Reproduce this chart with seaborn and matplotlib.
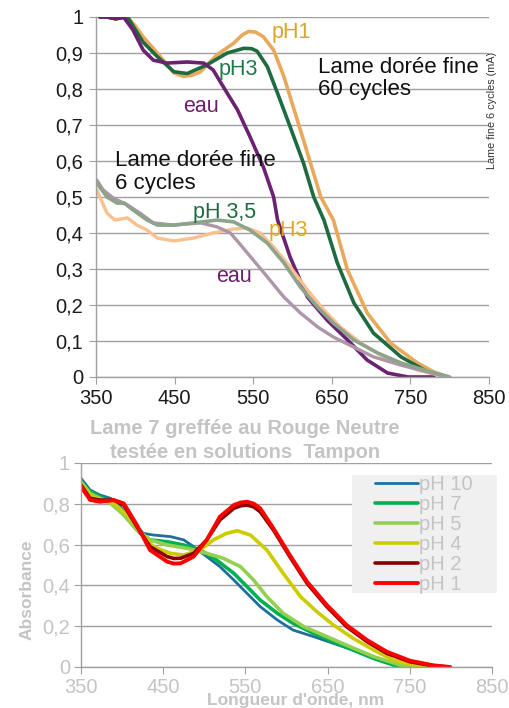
import numpy as np
import pandas as pd
import matplotlib
matplotlib.use("Agg")
import matplotlib.pyplot as plt
from matplotlib.patches import Rectangle
import seaborn as sns

sns.set_style("white")
plt.rcParams['font.family'] = ['Liberation Sans', 'DejaVu Sans']

# ---------------- Top chart data (gold film) ----------------
x60_ph1 = [355, 364, 375, 390, 400, 410, 428, 449, 461, 472, 483, 504, 525, 536, 544, 553, 563, 576, 589, 601, 614, 636, 652, 670, 695, 725, 759, 780, 798]
y60_ph1 = [1.0, 1.0, 0.995, 1.0, 0.975, 0.945, 0.90, 0.845, 0.835, 0.838, 0.848, 0.895, 0.927, 0.95, 0.96, 0.958, 0.945, 0.908, 0.835, 0.75, 0.658, 0.5, 0.436, 0.297, 0.178, 0.094, 0.039, 0.014, 0.0]
x60_ph3 = [355, 364, 375, 390, 400, 410, 428, 449, 466, 491, 517, 538, 548, 555, 568, 581, 597, 614, 627, 640, 657, 678, 703, 738, 772, 798]
y60_ph3 = [1.0, 1.0, 0.995, 1.0, 0.965, 0.93, 0.89, 0.848, 0.843, 0.867, 0.90, 0.913, 0.912, 0.905, 0.862, 0.788, 0.695, 0.594, 0.5, 0.436, 0.317, 0.206, 0.122, 0.056, 0.014, 0.0]
x60_eau = [355, 364, 375, 385, 397, 410, 423, 440, 466, 487, 499, 512, 530, 546, 563, 576, 581, 597, 619, 644, 670, 695, 721, 747, 780]
y60_eau = [1.0, 1.0, 0.995, 1.0, 0.964, 0.908, 0.88, 0.872, 0.875, 0.872, 0.853, 0.806, 0.742, 0.667, 0.583, 0.5, 0.436, 0.333, 0.222, 0.158, 0.103, 0.047, 0.011, 0.0, 0.0]

x6_ph35 = [351, 364, 377, 386, 397, 415, 428, 449, 474, 504, 525, 546, 568, 589, 610, 632, 652, 678, 708, 738, 776, 800]
y6_ph35 = [0.539, 0.5, 0.483, 0.483, 0.464, 0.436, 0.422, 0.422, 0.428, 0.436, 0.431, 0.408, 0.372, 0.317, 0.25, 0.194, 0.15, 0.103, 0.067, 0.039, 0.014, 0.0]
x6_ph3 = [351, 364, 374, 390, 402, 415, 428, 449, 474, 499, 525, 542, 559, 576, 597, 619, 640, 661, 687, 716, 759, 798]
y6_ph3 = [0.52, 0.455, 0.436, 0.442, 0.422, 0.408, 0.386, 0.378, 0.386, 0.40, 0.411, 0.414, 0.40, 0.361, 0.306, 0.242, 0.186, 0.139, 0.094, 0.056, 0.019, 0.0]
x6_eau = [351, 359, 372, 390, 406, 423, 449, 483, 504, 521, 534, 550, 568, 589, 610, 632, 652, 678, 703, 738, 772, 798]
y6_eau = [0.547, 0.52, 0.497, 0.478, 0.455, 0.428, 0.422, 0.428, 0.417, 0.40, 0.367, 0.325, 0.278, 0.222, 0.178, 0.139, 0.111, 0.083, 0.056, 0.033, 0.014, 0.0]

top_series = [
    ("60 pH1", x60_ph1, y60_ph1, "#E9A95C", 2.6),
    ("60 pH3", x60_ph3, y60_ph3, "#1E6B40", 2.6),
    ("60 eau", x60_eau, y60_eau, "#6B2270", 2.6),
    ("6 pH3", x6_ph3, y6_ph3, "#FAC18E", 2.4),
    ("6 eau", x6_eau, y6_eau, "#AC96A8", 2.4),
    ("6 pH35", x6_ph35, y6_ph35, "#8EA38C", 2.6),
]

# ---------------- Bottom chart data (Neutral red) ----------------
xb_ph10 = [350, 361, 373, 386, 398, 414, 426, 438, 459, 475, 487, 503, 519, 536, 552, 568, 589, 608, 633, 657, 681, 706, 730, 750]
yb_ph10 = [0.925, 0.868, 0.843, 0.827, 0.786, 0.704, 0.655, 0.647, 0.639, 0.623, 0.59, 0.541, 0.492, 0.426, 0.361, 0.296, 0.23, 0.181, 0.149, 0.116, 0.083, 0.042, 0.01, 0.0]
xb_ph7 = [350, 361, 373, 390, 406, 422, 434, 455, 475, 495, 515, 536, 552, 568, 589, 608, 633, 657, 681, 706, 730, 750]
yb_ph7 = [0.908, 0.86, 0.835, 0.81, 0.729, 0.655, 0.623, 0.614, 0.598, 0.574, 0.524, 0.459, 0.394, 0.328, 0.263, 0.214, 0.165, 0.124, 0.083, 0.042, 0.01, 0.0]
xb_ph5 = [350, 361, 373, 386, 402, 418, 434, 455, 479, 503, 523, 544, 560, 576, 596, 621, 649, 677, 706, 738, 762]
yb_ph5 = [0.908, 0.851, 0.827, 0.802, 0.745, 0.672, 0.623, 0.598, 0.582, 0.557, 0.533, 0.492, 0.426, 0.345, 0.263, 0.198, 0.149, 0.10, 0.051, 0.01, 0.0]
xb_ph4 = [350, 361, 373, 390, 406, 422, 438, 459, 475, 495, 511, 527, 540, 556, 576, 596, 617, 637, 657, 681, 706, 730, 758, 775]
yb_ph4 = [0.90, 0.843, 0.818, 0.802, 0.745, 0.663, 0.59, 0.557, 0.549, 0.574, 0.623, 0.655, 0.668, 0.647, 0.574, 0.459, 0.345, 0.271, 0.206, 0.141, 0.083, 0.034, 0.005, 0.0]
xb_ph2 = [350, 361, 373, 390, 402, 418, 434, 455, 463, 471, 487, 503, 519, 536, 544, 552, 560, 568, 584, 604, 625, 649, 673, 698, 722, 750, 779, 799]
yb_ph2 = [0.892, 0.827, 0.818, 0.818, 0.794, 0.688, 0.59, 0.541, 0.532, 0.533, 0.557, 0.623, 0.721, 0.778, 0.79, 0.794, 0.785, 0.761, 0.672, 0.541, 0.41, 0.296, 0.198, 0.124, 0.067, 0.026, 0.005, 0.0]
xb_ph1 = [350, 361, 373, 390, 402, 418, 434, 455, 463, 471, 487, 503, 519, 536, 544, 552, 560, 568, 584, 604, 625, 649, 673, 698, 722, 750, 779, 799]
yb_ph1 = [0.884, 0.819, 0.81, 0.818, 0.802, 0.696, 0.573, 0.516, 0.507, 0.508, 0.541, 0.623, 0.737, 0.794, 0.806, 0.81, 0.801, 0.778, 0.68, 0.549, 0.418, 0.304, 0.206, 0.132, 0.075, 0.031, 0.008, 0.0]

bottom_series = [
    ("pH 10", xb_ph10, yb_ph10, "#1F6F9E", 2.0),
    ("pH 7", xb_ph7, yb_ph7, "#00B050", 2.6),
    ("pH 5", xb_ph5, yb_ph5, "#92D050", 2.6),
    ("pH 4", xb_ph4, yb_ph4, "#CCCC00", 2.6),
    ("pH 2", xb_ph2, yb_ph2, "#8B0000", 2.6),
    ("pH 1", xb_ph1, yb_ph1, "#FF0000", 2.8),
]

x_ticks = [350, 450, 550, 650, 750, 850]
top_yticks = [0, 0.1, 0.2, 0.3, 0.4, 0.5, 0.6, 0.7, 0.8, 0.9, 1.0]
bot_yticks = [0, 0.2, 0.4, 0.6, 0.8, 1.0]


def fmt(v):
    s = ("%g" % round(v, 2))
    return s.replace(".", ",")


fig = plt.figure(figsize=(5.10, 7.08), dpi=100)

# ---------- top axes ----------
ax1 = fig.add_axes([96 / 510, 1 - 377 / 708, (489 - 96) / 510, (377 - 17) / 708])
for name, xs, ys, col, lw in top_series:
    df = pd.DataFrame({"x": xs, "y": ys})
    sns.lineplot(data=df, x="x", y="y", ax=ax1, color=col, linewidth=lw, sort=False, estimator=None,
                 solid_joinstyle="round", solid_capstyle="round")
ax1.set_xlim(350, 850)
ax1.set_ylim(0, 1.0)
ax1.set_xticks(x_ticks)
ax1.set_xticklabels([str(t) for t in x_ticks])
ax1.set_yticks(top_yticks)
ax1.set_yticklabels([fmt(t) for t in top_yticks])
ax1.set_xlabel("")
ax1.set_ylabel("")
ax1.grid(axis="y", color="#A0A0A0", linewidth=1.0)
ax1.set_axisbelow(True)
for s in ["top", "right"]:
    ax1.spines[s].set_visible(False)
for s in ["left", "bottom"]:
    ax1.spines[s].set_color("#A0A0A0")
    ax1.spines[s].set_linewidth(1.0)
ax1.tick_params(axis="both", length=5, color="#A0A0A0", labelsize=14.5, labelcolor="#1a1a1a", pad=4, direction="out",
                left=True, bottom=True)
ax1.patch.set_alpha(0)

tk = dict(fontsize=15.5)
ax1.text(598, 0.956, "pH1", color="#D8A528", ha="center", va="center", **tk)
ax1.text(531, 0.853, "pH3", color="#1D7B4B", ha="center", va="center", **tk)
ax1.text(483, 0.75, "eau", color="#6B1F6B", ha="center", va="center", **tk)
ax1.text(632, 0.89, "Lame dorée fine\n60 cycles", color="#111111", ha="left", va="top", fontsize=16, linespacing=1.1)
ax1.text(374, 0.63, "Lame dorée fine\n6 cycles", color="#111111", ha="left", va="top", fontsize=16, linespacing=1.1)
ax1.text(513, 0.456, "pH 3,5", color="#1D6B3F", ha="center", va="center", **tk)
ax1.text(595, 0.408, "pH3", color="#E0A820", ha="center", va="center", **tk)
ax1.text(526, 0.28, "eau", color="#6B1F6B", ha="center", va="center", **tk)

fig.text(492 / 510, 1 - 110 / 708, "Lame fine 6 cycles (mA)", rotation=90, ha="center", va="center",
         fontsize=7.8, color="#333333")

# ---------- bottom axes ----------
ax2 = fig.add_axes([81 / 510, 1 - 667 / 708, (492 - 81) / 510, (667 - 463) / 708])
for name, xs, ys, col, lw in bottom_series:
    df = pd.DataFrame({"x": xs, "y": ys})
    sns.lineplot(data=df, x="x", y="y", ax=ax2, color=col, linewidth=lw, sort=False, estimator=None, label=name,
                 solid_joinstyle="round", solid_capstyle="round")
ax2.set_xlim(350, 850)
ax2.set_ylim(0, 1.0)
ax2.set_xticks(x_ticks)
ax2.set_xticklabels([str(t) for t in x_ticks])
ax2.set_yticks(bot_yticks)
ax2.set_yticklabels([fmt(t) for t in bot_yticks])
ax2.set_xlabel("")
ax2.set_ylabel("")
ax2.grid(axis="y", color="#A0A0A0", linewidth=1.0)
ax2.set_axisbelow(True)
for s in ["top", "right"]:
    ax2.spines[s].set_visible(False)
for s in ["left", "bottom"]:
    ax2.spines[s].set_color("#A0A0A0")
    ax2.spines[s].set_linewidth(1.0)
ax2.tick_params(axis="both", length=5, color="#A0A0A0", labelsize=14.5, labelcolor="#C4C4C4", pad=3, direction="out",
                left=True, bottom=True)
ax2.patch.set_alpha(0)

# legend background box (drawn inside ax2 below the legend)
bg = Rectangle((352 / 510, 1 - 593 / 708), (497 - 352) / 510, (593 - 475) / 708, transform=fig.transFigure,
               facecolor="#F0F0F0", edgecolor="none", zorder=4, clip_on=False)
ax2.add_patch(bg)

leg = ax2.legend(loc="upper left", bbox_to_anchor=(375 / 510, 1 - 475 / 708), bbox_transform=fig.transFigure,
                 frameon=False, fontsize=14.5, labelspacing=0.05, handlelength=2.15, handletextpad=0.05,
                 borderpad=0.0, borderaxespad=0)
for t in leg.get_texts():
    t.set_color("#C4C4C4")
leg.set_zorder(6)

fig.text(245 / 510, 1 - 428 / 708, "Lame 7 greffée au Rouge Neutre", ha="center", va="center",
         fontsize=14.5, fontweight="bold", color="#C4C4C4")
fig.text(245 / 510, 1 - 452 / 708, "testée en solutions  Tampon", ha="center", va="center",
         fontsize=14.5, fontweight="bold", color="#C4C4C4")
fig.text(27 / 510, 1 - 590 / 708, "Absorbance", rotation=90, ha="center", va="center",
         fontsize=12.5, fontweight="bold", color="#C4C4C4")
fig.text(296 / 510, 1 - 701 / 708, "Longueur d'onde, nm", ha="center", va="center",
         fontsize=12.5, fontweight="bold", color="#C4C4C4")

fig.savefig("out.png", dpi=100)
